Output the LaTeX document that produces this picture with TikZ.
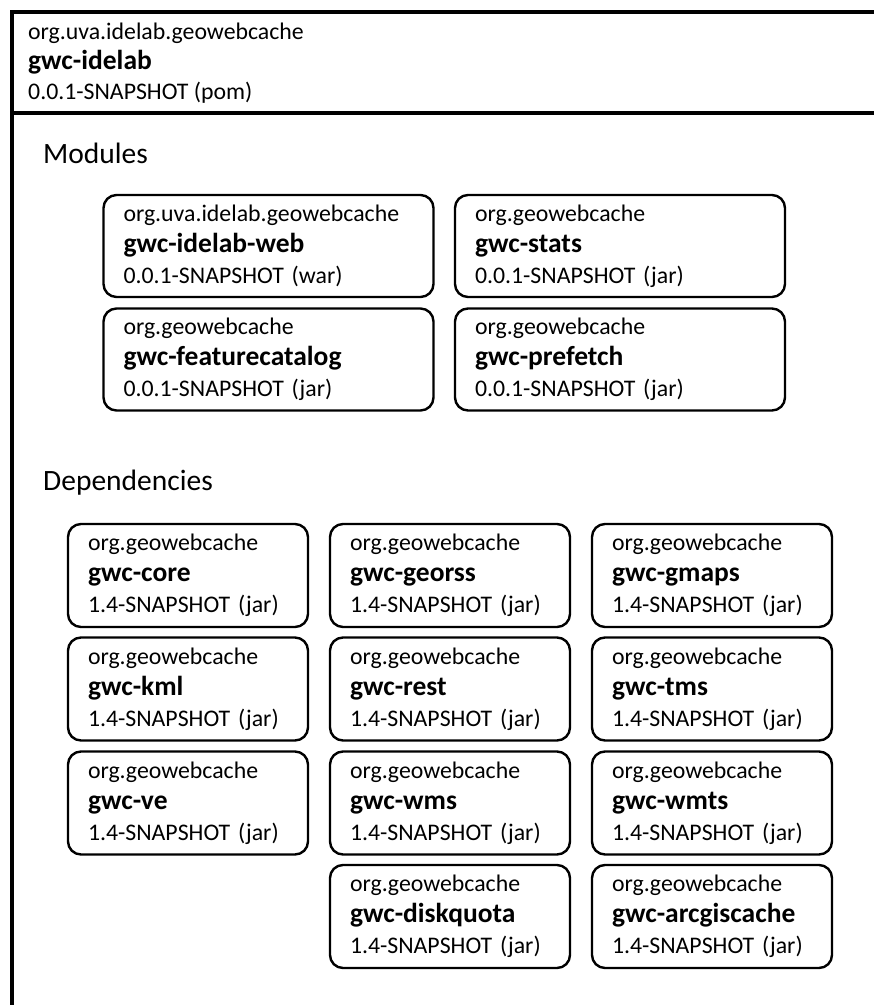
\documentclass[tikz,border=0pt]{standalone}
\usepackage{fontspec}
\setmainfont{Carlito}
\newcommand{\artid}[1]{{\fontsize{27.5}{31}\selectfont\bfseries #1}}
\begin{document}
\begin{tikzpicture}[x=1pt,y=-1pt]
\tikzstyle{every node}=[font=\fontsize{23.8}{31}\selectfont,align=left]
\tikzstyle{artifact}=[draw,line width=2.4pt,rounded corners=13pt,minimum height=103pt,inner xsep=20pt,inner ysep=0pt,text width=200pt]
\tikzstyle{module}=[artifact,text width=290pt,minimum height=102pt]
\tikzstyle{heading}=[anchor=west,inner sep=0pt,font=\fontsize{29.5}{34}\selectfont]
\useasboundingbox (0,0) rectangle (874,1005);
\draw[line width=3.5pt] (12,1005) -- (12,12) -- (880,12);
\draw[line width=3.5pt] (12,113) -- (880,113);
\node[anchor=west,inner sep=0pt,font=\fontsize{23.8}{30}\selectfont](root) at (28,63) {org.uva.idelab.geowebcache\\\artid{gwc-idelab}\\0.0.1-SNAPSHOT (pom)};
\node[heading](modules) at (43,153) {Modules};
\node[heading](deps) at (43,483) {Dependencies};
\node[module](m1) at (268.5,246) {org.uva.idelab.geowebcache\\\artid{gwc-idelab-web}\\0.0.1-SNAPSHOT (war)};
\node[module](m2) at (620,246) {org.geowebcache\\\artid{gwc-stats}\\0.0.1-SNAPSHOT (jar)};
\node[module](m3) at (268.5,359.5) {org.geowebcache\\\artid{gwc-featurecatalog}\\0.0.1-SNAPSHOT (jar)};
\node[module](m4) at (620,359.5) {org.geowebcache\\\artid{gwc-prefetch}\\0.0.1-SNAPSHOT (jar)};
\node[artifact](d1) at (188,575.5) {org.geowebcache\\\artid{gwc-core}\\1.4-SNAPSHOT (jar)};
\node[artifact](d2) at (450,575.5) {org.geowebcache\\\artid{gwc-georss}\\1.4-SNAPSHOT (jar)};
\node[artifact](d3) at (712,575.5) {org.geowebcache\\\artid{gwc-gmaps}\\1.4-SNAPSHOT (jar)};
\node[artifact](d4) at (188,689) {org.geowebcache\\\artid{gwc-kml}\\1.4-SNAPSHOT (jar)};
\node[artifact](d5) at (450,689) {org.geowebcache\\\artid{gwc-rest}\\1.4-SNAPSHOT (jar)};
\node[artifact](d6) at (712,689) {org.geowebcache\\\artid{gwc-tms}\\1.4-SNAPSHOT (jar)};
\node[artifact](d7) at (188,803) {org.geowebcache\\\artid{gwc-ve}\\1.4-SNAPSHOT (jar)};
\node[artifact](d8) at (450,803) {org.geowebcache\\\artid{gwc-wms}\\1.4-SNAPSHOT (jar)};
\node[artifact](d9) at (712,803) {org.geowebcache\\\artid{gwc-wmts}\\1.4-SNAPSHOT (jar)};
\node[artifact](d10) at (450,916.5) {org.geowebcache\\\artid{gwc-diskquota}\\1.4-SNAPSHOT (jar)};
\node[artifact](d11) at (712,916.5) {org.geowebcache\\\artid{gwc-arcgiscache}\\1.4-SNAPSHOT (jar)};
\end{tikzpicture}
\end{document}
